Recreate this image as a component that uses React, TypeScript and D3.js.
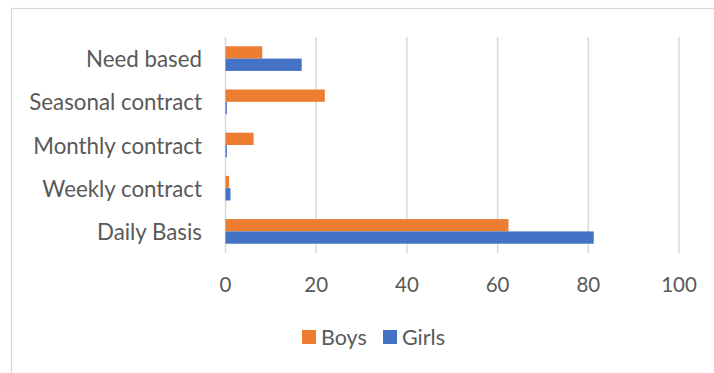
import React, { useEffect, useRef } from "react";
import * as d3 from "d3";

const categories = [
  "Need based",
  "Seasonal contract",
  "Monthly contract",
  "Weekly contract",
  "Daily Basis",
];
const seriesNames = ["Boys", "Girls"];
const boysValues = [8.1, 21.9, 6.2, 0.8, 62.4];
const girlsValues = [16.8, 0.3, 0.3, 1.1, 81.2];
const xTicks = [0, 20, 40, 60, 80, 100];
const seriesColors = ["#ED7D31", "#4472C4"];

const W = 714;
const H = 373;
const FONT = "Lato, 'Open Sans', sans-serif";
const TEXT_COLOR = "#595959";
const GRID_COLOR = "#D9D9D9";

export default function App() {
  const ref = useRef<SVGSVGElement | null>(null);

  useEffect(() => {
    const svg = d3.select(ref.current);
    svg.selectAll("*").remove();

    // outer chart frame (extends past the visible area on right and bottom)
    svg
      .append("rect")
      .attr("x", 11.5)
      .attr("y", 8.5)
      .attr("width", W + 20)
      .attr("height", H + 20)
      .attr("fill", "#fff")
      .attr("stroke", GRID_COLOR)
      .attr("stroke-width", 1.2);

    const plot = { left: 225.5, right: 679, top: 37, bottom: 253 };

    const x = d3.scaleLinear().domain([0, 100]).range([plot.left, plot.right]);
    const y = d3
      .scaleBand<string>()
      .domain(categories)
      .range([plot.top, plot.bottom])
      .paddingInner(0.43)
      .paddingOuter(0.215);
    const sub = d3
      .scaleBand<string>()
      .domain(seriesNames)
      .range([0, y.bandwidth()]);

    // vertical gridlines
    svg
      .append("g")
      .selectAll("line")
      .data(xTicks)
      .join("line")
      .attr("x1", (d) => x(d))
      .attr("x2", (d) => x(d))
      .attr("y1", plot.top)
      .attr("y2", plot.bottom)
      .attr("stroke", GRID_COLOR)
      .attr("stroke-width", 1.5);

    const rows = categories.map((c, i) => ({
      cat: c,
      vals: [boysValues[i], girlsValues[i]],
    }));

    const groups = svg
      .append("g")
      .selectAll("g")
      .data(rows)
      .join("g")
      .attr("transform", (d) => `translate(0,${y(d.cat)})`);

    groups
      .selectAll("rect")
      .data((d) => d.vals.map((v, j) => ({ v, s: seriesNames[j], j })))
      .join("rect")
      .attr("x", x(0))
      .attr("y", (d) => sub(d.s)!)
      .attr("width", (d) => x(d.v) - x(0))
      .attr("height", sub.bandwidth())
      .attr("fill", (d) => seriesColors[d.j]);

    // category labels
    svg
      .append("g")
      .selectAll("text")
      .data(categories)
      .join("text")
      .attr("x", 202)
      .attr("y", (d) => y(d)! + y.bandwidth() / 2)
      .attr("text-anchor", "end")
      .attr("dominant-baseline", "central")
      .attr("font-family", FONT)
      .attr("font-size", 22.3)
      .attr("fill", TEXT_COLOR)
      .text((d) => d);

    // value axis labels
    svg
      .append("g")
      .selectAll("text")
      .data(xTicks)
      .join("text")
      .attr("x", (d) => x(d))
      .attr("y", 283.5)
      .attr("text-anchor", "middle")
      .attr("dominant-baseline", "central")
      .attr("font-family", FONT)
      .attr("font-size", 20.5)
      .attr("fill", TEXT_COLOR)
      .text((d) => String(d));

    // legend
    const legendItems = [
      { name: seriesNames[0], color: seriesColors[0], x: 302 },
      { name: seriesNames[1], color: seriesColors[1], x: 383 },
    ];
    const lg = svg
      .append("g")
      .selectAll("g")
      .data(legendItems)
      .join("g")
      .attr("transform", (d) => `translate(${d.x},330)`);
    lg.append("rect")
      .attr("width", 14)
      .attr("height", 14)
      .attr("fill", (d) => d.color);
    lg.append("text")
      .attr("x", 19)
      .attr("y", 7)
      .attr("dominant-baseline", "central")
      .attr("font-family", FONT)
      .attr("font-size", 21.5)
      .attr("fill", TEXT_COLOR)
      .text((d) => d.name);
  }, []);

  return (
    <div style={{ position: "absolute", left: 0, top: 0 }}>
      <svg ref={ref} width={W} height={H} style={{ display: "block" }} />
    </div>
  );
}
